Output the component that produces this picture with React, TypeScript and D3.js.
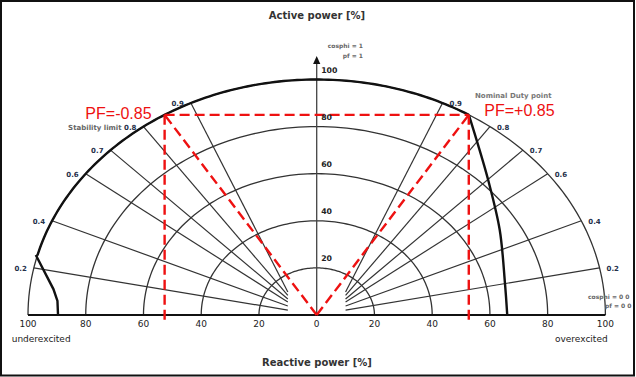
import React from "react";
import * as d3 from "d3";

// ---- data ----
const pfLines = [0.9, 0.8, 0.7, 0.6, 0.4, 0.2];
const pfInnerP = [9.8, 8.3, 6.8, 5.5, 3.8, 2.1]; // inner end of each PF line (P units, at |Q| = 10)
const pfInnerQ = 10;
const rings = [20, 40, 60, 80, 100];
const qTicks = [-100, -80, -60, -40, -20, 0, 20, 40, 60, 80, 100];
const pTicks = [20, 40, 60, 80, 100];
const nominalPF = 0.85;
const stabilityLimit: [number, number][] = [
  [-89.6, 0],
  [-89.8, 6],
  [-91.2, 11],
  [-97.3, 25.5],
];
const currentLimit: [number, number][] = [
  [52.7, 85],
  [56.2, 71],
  [59.4, 57.3],
  [63.4, 36.1],
  [65.2, 13.6],
  [66, 0],
];

const W = 636;
const H = 377;

export default function App() {
  const x = d3.scaleLinear().domain([-100, 100]).range([28, 605.4]);
  const y = d3.scaleLinear().domain([0, 100]).range([315, 79.5]);
  const line = d3
    .line<[number, number]>()
    .x((d) => x(d[0]))
    .y((d) => y(d[1]));
  const smooth = d3
    .line<[number, number]>()
    .x((d) => x(d[0]))
    .y((d) => y(d[1]))
    .curve(d3.curveCatmullRom);

  const arcPts = (r: number, a0: number, a1: number): [number, number][] =>
    d3.range(0, 121).map((i) => {
      const a = a0 + ((a1 - a0) * i) / 120;
      return [r * Math.sin(a), r * Math.cos(a)];
    });

  const pfPoint = (pf: number, side: number): [number, number] => [
    side * 100 * Math.sqrt(1 - pf * pf),
    100 * pf,
  ];

  // thick capability outline along outer ring
  const aStart = Math.atan2(stabilityLimit[3][0], stabilityLimit[3][1]);
  const aEnd = Math.acos(nominalPF);

  const nomL = pfPoint(nominalPF, -1);
  const nomR = pfPoint(nominalPF, 1);

  const labelFont = "DejaVu Sans, sans-serif";
  const labelColor = "#25304a";

  return (
    <svg
      width={W}
      height={H}
      style={{ position: "absolute", left: 0, top: 0, background: "#fff" }}
    >
      <defs>
        <clipPath id="frame">
          <rect x={0} y={0} width={633} height={376} />
        </clipPath>
      </defs>
      <rect x={0} y={0} width={W} height={H} fill="#fff" />

      {/* rings */}
      {rings.map((r) => (
        <path
          key={"r" + r}
          d={line(arcPts(r, -Math.PI / 2, Math.PI / 2)) || ""}
          fill="none"
          stroke="#333"
          strokeWidth={1.3}
        />
      ))}

      {/* PF lines */}
      {pfLines.map((pf, i) =>
        [-1, 1].map((s) => {
          const o = pfPoint(pf, s);
          return (
            <path
              key={"pf" + pf + s}
              d={line([o, [s * pfInnerQ, pfInnerP[i]]]) || ""}
              stroke="#333"
              strokeWidth={1.2}
              fill="none"
            />
          );
        })
      )}

      {/* baseline */}
      <line x1={x(-100)} x2={x(100)} y1={y(0)} y2={y(0)} stroke="#111" strokeWidth={1.8} />

      {/* vertical axis with arrow */}
      <line x1={x(0)} x2={x(0)} y1={y(0)} y2={63} stroke="#444" strokeWidth={1.3} />
      <path
        d={`M${x(0)},56 L${x(0) - 3.6},64 L${x(0) + 3.6},64 Z`}
        fill="#111"
      />

      {/* capability limits (thick) */}
      <path d={line(stabilityLimit) || ""} fill="none" stroke="#111" strokeWidth={2.4} />
      <path d={line(arcPts(100, aStart, aEnd)) || ""} fill="none" stroke="#111" strokeWidth={2.4} />
      <path d={smooth(currentLimit) || ""} fill="none" stroke="#111" strokeWidth={2.4} />

      {/* red dashed PF=0.85 construction */}
      <g stroke="#ee1111" strokeWidth={2.4} strokeDasharray="10,5" fill="none">
        <path d={line([nomL, nomR]) || ""} />
        <path d={line([nomL, [nomL[0], -2.5]]) || ""} />
        <path d={line([nomR, [nomR[0], -2.5]]) || ""} />
        <path d={line([[0, 0], nomL]) || ""} />
        <path d={line([[0, 0], nomR]) || ""} />
      </g>

      {/* PF labels */}
      {pfLines.map((pf) =>
        [-1, 1].map((s) => {
          const o = pfPoint(pf, s);
          const isStab = s < 0 && pf === 0.8;
          return (
            <text
              key={"lab" + pf + s}
              x={x(o[0]) + s * 7}
              y={y(o[1]) + 1}
              textAnchor={s < 0 ? "end" : "start"}
              dominantBaseline="central"
              fontFamily={labelFont}
              fontWeight="bold"
              fontSize={7}
              fill={labelColor}
            >
              {isStab ? <tspan fill="#666">Stability limit </tspan> : null}
              {pf.toFixed(1)}
            </text>
          );
        })
      )}

      {/* Q tick labels */}
      {qTicks.map((v, i) => (
        <text
          key={"q" + i}
          x={x(v)}
          y={324}
          textAnchor="middle"
          dominantBaseline="central"
          fontFamily={labelFont}
          fontSize={9}
          fill="#222"
        >
          {Math.abs(v)}
        </text>
      ))}

      {/* P tick labels */}
      {pTicks.map((v) => (
        <text
          key={"p" + v}
          x={x(0) + 4.5}
          y={y(v) - 9}
          dominantBaseline="central"
          fontFamily={labelFont}
          fontWeight="bold"
          fontSize={7.8}
          fill="#222"
        >
          {v}
        </text>
      ))}

      {/* titles */}
      <text x={317} y={15} textAnchor="middle" dominantBaseline="central" fontFamily={labelFont} fontWeight="bold" fontSize={10} fill="#333">
        Active power [%]
      </text>
      <text x={317} y={362} textAnchor="middle" dominantBaseline="central" fontFamily={labelFont} fontWeight="bold" fontSize={10} fill="#333">
        Reactive power [%]
      </text>
      <text x={11.7} y={339} dominantBaseline="central" fontFamily={labelFont} fontSize={9} fill="#222">
        underexcited
      </text>
      <text x={555} y={339} dominantBaseline="central" fontFamily={labelFont} fontSize={9} fill="#222">
        overexcited
      </text>

      {/* small annotations */}
      <text x={363} y={45.7} textAnchor="end" dominantBaseline="central" fontFamily={labelFont} fontWeight="bold" fontSize={6} fill="#666">
        cosphi = 1
      </text>
      <text x={363} y={55} textAnchor="end" dominantBaseline="central" fontFamily={labelFont} fontWeight="bold" fontSize={6} fill="#666">
        pf = 1
      </text>
      <text x={475} y={96} dominantBaseline="central" fontFamily={labelFont} fontWeight="bold" fontSize={7} fill="#777">
        Nominal Duty point
      </text>
      <g clipPath="url(#frame)">
        <text x={588} y={296.7} dominantBaseline="central" fontFamily={labelFont} fontWeight="bold" fontSize={6} fill="#666">
          cosphi = 0 0
        </text>
        <text x={605} y={305.7} dominantBaseline="central" fontFamily={labelFont} fontWeight="bold" fontSize={6} fill="#666">
          pf = 0 0
        </text>
      </g>

      {/* red PF labels */}
      <text x={x(nomL[0]) - 13} y={y(nomL[1]) + 4} textAnchor="end" fontFamily="Liberation Sans, Arial, sans-serif" fontSize={16} fill="#ee1111">
        PF=-0.85
      </text>
      <text x={x(nomR[0]) + 15.5} y={y(nomR[1]) + 1.5} textAnchor="start" fontFamily="Liberation Sans, Arial, sans-serif" fontSize={16} fill="#ee1111">
        PF=+0.85
      </text>

      {/* frame */}
      <rect x={1} y={1} width={633} height={374.5} fill="none" stroke="#111" strokeWidth={2} />
    </svg>
  );
}
